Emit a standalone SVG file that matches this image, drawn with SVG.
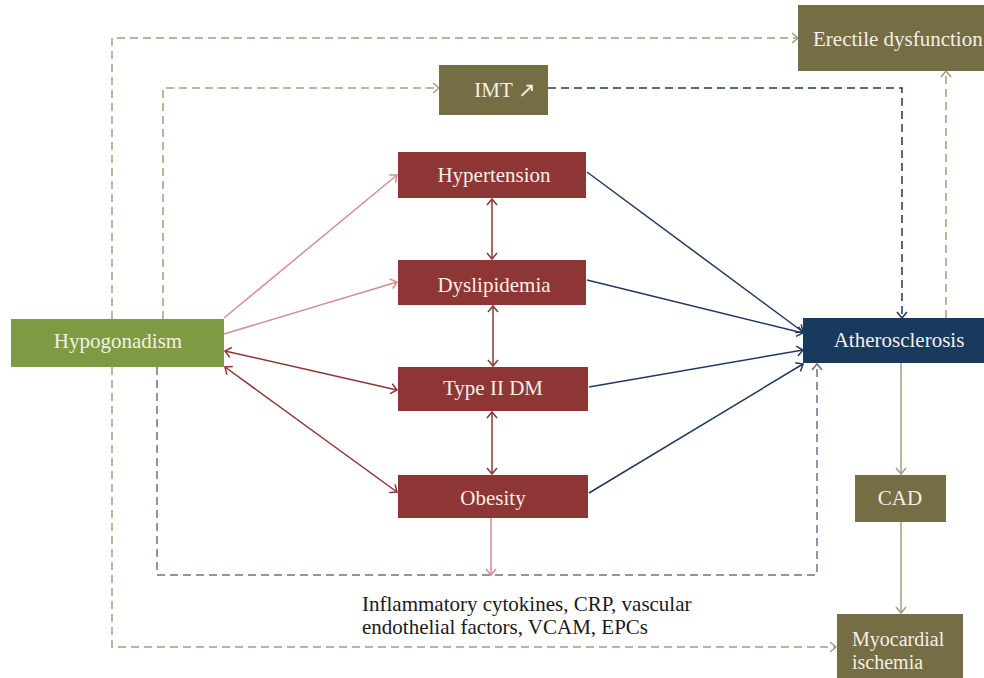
<svg xmlns="http://www.w3.org/2000/svg" width="984" height="678" viewBox="0 0 984 678">
<style>
.t{font-family:"Liberation Serif","Times New Roman",serif;font-size:21px;fill:#f4efe6}
.c{text-anchor:middle}
.s{font-size:20px}
.lbl{font-family:"Liberation Serif","Times New Roman",serif;font-size:21px;fill:#1a1a1a}
.red{fill:#8e3535}.olv{fill:#756d44}.grn{fill:#7e9b43}.nav{fill:#173a5e}
.ln{fill:none;stroke-width:1.5}
.d{stroke-dasharray:8 5}
</style>
<defs>
<marker id="mO" viewBox="-8 -6 10 12" refX="0" refY="0" markerWidth="10" markerHeight="12" markerUnits="userSpaceOnUse" orient="auto-start-reverse"><path d="M-6,-5 L0,0 L-6,5" fill="none" stroke="#a39d7f" stroke-width="1.5"/></marker>
<marker id="mN" viewBox="-8 -6 10 12" refX="0" refY="0" markerWidth="10" markerHeight="12" markerUnits="userSpaceOnUse" orient="auto-start-reverse"><path d="M-6,-5 L0,0 L-6,5" fill="none" stroke="#1f3a5c" stroke-width="1.5"/></marker>
<marker id="mS" viewBox="-8 -6 10 12" refX="0" refY="0" markerWidth="10" markerHeight="12" markerUnits="userSpaceOnUse" orient="auto-start-reverse"><path d="M-6,-5 L0,0 L-6,5" fill="none" stroke="#65758c" stroke-width="1.5"/></marker>
<marker id="mP" viewBox="-8 -6 10 12" refX="0" refY="0" markerWidth="10" markerHeight="12" markerUnits="userSpaceOnUse" orient="auto-start-reverse"><path d="M-6,-5 L0,0 L-6,5" fill="none" stroke="#d48f8f" stroke-width="1.5"/></marker>
<marker id="mR" viewBox="-8 -6 10 12" refX="0" refY="0" markerWidth="10" markerHeight="12" markerUnits="userSpaceOnUse" orient="auto-start-reverse"><path d="M-6,-5 L0,0 L-6,5" fill="none" stroke="#8e3535" stroke-width="1.5"/></marker>
</defs>
<g id="connectors">
<path class="ln d" stroke="#a39d7f" d="M112,319 V38 H798" marker-end="url(#mO)"/>
<path class="ln d" stroke="#a39d7f" d="M112,367 V647 H836" marker-end="url(#mO)"/>
<path class="ln d" stroke="#a39d7f" d="M163,319 V88 H439" marker-end="url(#mO)"/>
<path class="ln d" stroke="#1f3a5c" d="M548,88 H902 V318" marker-end="url(#mN)"/>
<path class="ln d" stroke="#a39d7f" d="M946,318 V71" marker-end="url(#mO)"/>
<path class="ln d" stroke="#65758c" d="M157,367 V575 H817 V364" marker-end="url(#mS)"/>
<path class="ln" stroke="#d48f8f" d="M224,318 L397,175" marker-end="url(#mP)"/>
<path class="ln" stroke="#d48f8f" d="M224,334 L397,282" marker-end="url(#mP)"/>
<path class="ln" stroke="#d48f8f" d="M491,518 V575" marker-end="url(#mP)"/>
<path class="ln" stroke="#8e3535" d="M225,351 L397,390" marker-start="url(#mR)" marker-end="url(#mR)"/>
<path class="ln" stroke="#8e3535" d="M225,367 L397,492" marker-start="url(#mR)" marker-end="url(#mR)"/>
<path class="ln" stroke="#8e3535" d="M492,199 V259" marker-start="url(#mR)" marker-end="url(#mR)"/>
<path class="ln" stroke="#8e3535" d="M493,306 V366" marker-start="url(#mR)" marker-end="url(#mR)"/>
<path class="ln" stroke="#8e3535" d="M492,412 V474" marker-start="url(#mR)" marker-end="url(#mR)"/>
<path class="ln" stroke="#1f3a5c" d="M587,172 L803,332" marker-end="url(#mN)"/>
<path class="ln" stroke="#1f3a5c" d="M587,280 L803,333" marker-end="url(#mN)"/>
<path class="ln" stroke="#1f3a5c" d="M589,387 L803,350" marker-end="url(#mN)"/>
<path class="ln" stroke="#1f3a5c" d="M589,493 L803,364" marker-end="url(#mN)"/>
<path class="ln" stroke="#a39d7f" d="M901,363 V474" marker-end="url(#mO)"/>
<path class="ln" stroke="#a39d7f" d="M901,522 V613" marker-end="url(#mO)"/>
</g>
<g id="erectile"><rect class="olv" x="798" y="5" width="190" height="66"/><text class="t" x="813" y="46">Erectile dysfunction</text></g>
<g id="imt"><rect class="olv" x="439" y="65" width="109" height="50"/><text class="t c" x="505" y="97">IMT ↗</text></g>
<g id="hypertension"><rect class="red" x="398" y="152" width="188" height="46"/><text class="t c" x="494" y="182">Hypertension</text></g>
<g id="dyslipidemia"><rect class="red" x="398" y="260" width="188" height="45"/><text class="t c" x="494" y="292">Dyslipidemia</text></g>
<g id="type2dm"><rect class="red" x="398" y="367" width="190" height="44"/><text class="t c" x="493" y="395">Type II DM</text></g>
<g id="obesity"><rect class="red" x="398" y="475" width="190" height="43"/><text class="t c" x="493" y="505">Obesity</text></g>
<g id="hypogonadism"><rect class="grn" x="11" y="319" width="213" height="48"/><text class="t c" x="118" y="348">Hypogonadism</text></g>
<g id="atherosclerosis"><rect class="nav" x="803" y="318" width="181" height="45"/><text class="t c" x="899" y="347">Atherosclerosis</text></g>
<g id="cad"><rect class="olv" x="855" y="475" width="91" height="47"/><text class="t c" x="900" y="505">CAD</text></g>
<g id="myocardial"><rect class="olv" x="837" y="614" width="126" height="64"/><text class="t s" x="852" y="646">Myocardial</text><text class="t s" x="852" y="669">ischemia</text></g>
<g id="label"><text class="lbl" x="362" y="611">Inflammatory cytokines, CRP, vascular</text><text class="lbl" x="362" y="634">endothelial factors, VCAM, EPCs</text></g>
</svg>
